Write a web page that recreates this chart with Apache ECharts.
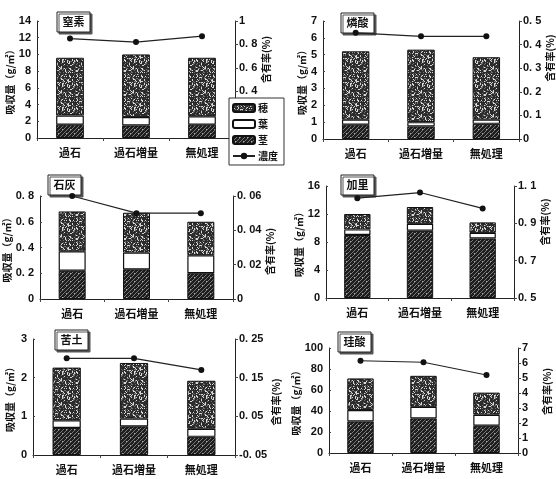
<!DOCTYPE html>
<html>
<head>
<meta charset="utf-8">
<script src="https://cdn.jsdelivr.net/npm/echarts@6/dist/echarts.min.js"></script>
<style>
  html, body { margin: 0; padding: 0; background: #fff; }
  #chart { width: 556px; height: 479px; }
</style>
</head>
<body>
<div id="chart"></div>
<script>
// 区分
const categories = ['過石', '過石増量', '無処理'];
const elements = ['窒素', '燐酸', '石灰', '加里', '苦土', '珪酸'];

// 吸収量 (g/㎡) 茎・葉・穂, 含有率 (%)
const nStem = [1.6, 1.5, 1.6];
const nLeaf = [1.1, 1.0, 1.0];
const nEar = [6.9, 7.5, 7.0];
const nConc = [0.85, 0.82, 0.87];

const pStem = [0.85, 0.75, 0.9];
const pLeaf = [0.3, 0.25, 0.25];
const pEar = [4.05, 4.3, 3.7];
const pConc = [0.45, 0.435, 0.435];

const caStem = [0.22, 0.23, 0.2];
const caLeaf = [0.15, 0.13, 0.14];
const caEar = [0.31, 0.31, 0.26];
const caConc = [0.06, 0.05, 0.05];

const kStem = [9.0, 9.6, 8.5];
const kLeaf = [0.8, 1.0, 0.8];
const kEar = [2.2, 2.4, 1.5];
const kConc = [1.035, 1.065, 0.98];

const mgStem = [0.7, 0.74, 0.47];
const mgLeaf = [0.2, 0.2, 0.21];
const mgEar = [1.36, 1.44, 1.24];
const mgConc = [0.2, 0.2, 0.17];

const siStem = [30, 33, 26];
const siLeaf = [11, 11, 10.5];
const siEar = [30, 29.5, 21];
const siConc = [6.15, 6.05, 5.2];

// 目盛 [min, max, interval]
const leftTicks = [[0, 14, 2], [0, 7, 1], [0, 0.8, 0.2], [0, 16, 4], [0, 3, 1], [0, 100, 20]];
const rightTicks = [[0, 1, 0.2], [0, 0.5, 0.1], [0, 0.06, 0.02], [0.5, 1.1, 0.2], [-0.05, 0.25, 0.1], [0, 7, 1]];

const stems = [nStem, pStem, caStem, kStem, mgStem, siStem];
const leaves = [nLeaf, pLeaf, caLeaf, kLeaf, mgLeaf, siLeaf];
const ears = [nEar, pEar, caEar, kEar, mgEar, siEar];
const concs = [nConc, pConc, caConc, kConc, mgConc, siConc];

// レイアウト
const grids = [
  { left: 37, top: 21, width: 198, height: 117 },
  { left: 323, top: 21, width: 196, height: 118 },
  { left: 40, top: 196, width: 193, height: 103 },
  { left: 326, top: 186, width: 188, height: 112 },
  { left: 33, top: 339, width: 202, height: 116 },
  { left: 329, top: 348, width: 189, height: 105 }
];
const leftGap = [21, 15, 25, 20, 18, 25];
const rightGap = [24, 19, 29, 18, 31, 24];
// 右軸名の上下ずれ (+ で上)
const rightNameShift = [20, 22, -4, 20, -5, 9];
const titleBox = [[57, 12], [341, 13], [48, 175], [341, 175], [55, 330], [338, 332]];

const FONT = "'Noto Sans CJK JP', sans-serif";
const NUMFONT = "'Liberation Sans', Arial, sans-serif";

// 模様
function speckle() {
  const n = 24;
  const c = document.createElement('canvas');
  c.width = n; c.height = n;
  const ctx = c.getContext('2d');
  ctx.fillStyle = '#2c2c2c';
  ctx.fillRect(0, 0, n, n);
  for (let y = 0; y < n; y++) {
    for (let x = 0; x < n; x++) {
      let h = (x * 374761393 + y * 668265263) | 0;
      h = Math.imul(h ^ (h >>> 13), 1274126177);
      h = ((h ^ (h >>> 16)) >>> 0) % 100;
      if (h < 18) { ctx.fillStyle = '#d8d8d8'; ctx.fillRect(x, y, 1, 1); }
      else if (h < 32) { ctx.fillStyle = '#6e6e6e'; ctx.fillRect(x, y, 1, 1); }
    }
  }
  return { image: c, repeat: 'repeat' };
}
function hatch() {
  const n = 8;
  const c = document.createElement('canvas');
  c.width = n; c.height = n;
  const ctx = c.getContext('2d');
  ctx.fillStyle = '#1e1e1e';
  ctx.fillRect(0, 0, n, n);
  ctx.fillStyle = '#777';
  for (let i = 0; i < n; i++) {
    ctx.fillRect(i, (n - i) % n, 1, 1);
    ctx.fillRect(i, (n + 4 - i) % n, 1, 1);
  }
  ctx.fillStyle = '#aaa';
  ctx.fillRect(2, 5, 1, 1);
  ctx.fillRect(6, 1, 1, 1);
  return { image: c, repeat: 'repeat' };
}
const earFill = speckle();
const stemFill = hatch();

function fmt(v) {
  const s = String(+(+v).toFixed(4));
  return s.replace('.', '. ');
}

const chart = echarts.init(document.getElementById('chart'));

const gridOpt = [], xAxes = [], yAxes = [], series = [], graphics = [];

for (let i = 0; i < 6; i++) {
  gridOpt.push(Object.assign({ containLabel: false, outerBoundsMode: 'none' }, grids[i]));
  xAxes.push({
    type: 'category', gridIndex: i, data: categories,
    axisLine: { lineStyle: { color: '#222', width: 1 } },
    axisTick: { show: true, length: 3, lineStyle: { color: '#444' } },
    axisLabel: { fontFamily: FONT, fontWeight: 'bold', fontSize: 11, color: '#111', margin: 9 }
  });
  const L = leftTicks[i], R = rightTicks[i];
  const sh = rightNameShift[i];
  yAxes.push({
    type: 'value', gridIndex: i, position: 'left',
    min: L[0], max: L[1], interval: L[2],
    name: '吸収量（g/㎡）', nameLocation: 'middle', nameRotate: 90, nameGap: leftGap[i],
    nameTextStyle: { fontFamily: FONT, fontWeight: 'bold', fontSize: 10, color: '#111' },
    axisLine: { show: true, lineStyle: { color: '#222', width: 1 } },
    axisTick: { show: true, length: 2, inside: true, lineStyle: { color: '#444' } },
    splitLine: { show: false },
    axisLabel: { fontFamily: NUMFONT, fontWeight: 'bold', fontSize: 11, color: '#111', margin: 6, formatter: fmt }
  });
  yAxes.push({
    type: 'value', gridIndex: i, position: 'right',
    min: R[0], max: R[1], interval: R[2],
    name: '含有率(%)', nameLocation: 'middle', nameRotate: 90, nameGap: rightGap[i],
    nameTextStyle: { fontFamily: FONT, fontWeight: 'bold', fontSize: 10, color: '#111',
      padding: sh >= 0 ? [0, 0, 0, 2 * sh] : [0, -2 * sh, 0, 0] },
    axisLine: { show: true, lineStyle: { color: '#222', width: 1 } },
    axisTick: { show: true, length: 3, lineStyle: { color: '#444' } },
    splitLine: { show: false },
    axisLabel: { fontFamily: NUMFONT, fontWeight: 'bold', fontSize: 11, color: '#111', margin: 4, formatter: fmt }
  });

  const barBase = {
    type: 'bar', xAxisIndex: i, yAxisIndex: 2 * i, stack: 's' + i, barWidth: '42%',
    emphasis: { disabled: true }
  };
  series.push(Object.assign({}, barBase, {
    name: '茎', data: stems[i],
    itemStyle: { color: stemFill, borderColor: '#111', borderWidth: 1 }
  }));
  series.push(Object.assign({}, barBase, {
    name: '葉', data: leaves[i],
    itemStyle: { color: '#ffffff', borderColor: '#111', borderWidth: 1.2 }
  }));
  series.push(Object.assign({}, barBase, {
    name: '穂', data: ears[i],
    itemStyle: { color: earFill, borderColor: '#111', borderWidth: 1 }
  }));
  series.push({
    name: '濃度', type: 'line', xAxisIndex: i, yAxisIndex: 2 * i + 1, data: concs[i],
    symbol: 'circle', symbolSize: 6, z: 5,
    lineStyle: { color: '#222', width: 1.2 },
    itemStyle: { color: '#111' },
    emphasis: { disabled: true }
  });

  const b = titleBox[i];
  graphics.push({
    type: 'group', x: b[0], y: b[1], z: 100,
    children: [
      { type: 'rect', shape: { x: 0, y: 0, width: 33, height: 20 },
        style: { fill: '#fff', stroke: '#222', lineWidth: 1,
          shadowColor: '#555', shadowOffsetX: 2, shadowOffsetY: 2, shadowBlur: 0 } },
      { type: 'text', x: 16.5, y: 10,
        style: { text: elements[i], fontFamily: FONT, fontWeight: 'bold', fontSize: 11,
          fill: '#111', align: 'center', verticalAlign: 'middle' } }
    ]
  });
}

chart.setOption({
  animation: false,
  backgroundColor: '#fff',
  grid: gridOpt,
  xAxis: xAxes,
  yAxis: yAxes,
  legend: {
    data: ['穂', '葉', '茎', '濃度'],
    orient: 'vertical', left: 229, top: 98,
    itemWidth: 22, itemHeight: 8, itemGap: 6,
    padding: [5, 6, 4, 3],
    backgroundColor: '#fff', borderColor: '#333', borderWidth: 1,
    selectedMode: false, z: 10,
    textStyle: { fontFamily: FONT, fontWeight: 'bold', fontSize: 10, color: '#111', padding: [0, 0, 0, -2] }
  },
  graphic: graphics,
  series: series
});
</script>
</body>
</html>
